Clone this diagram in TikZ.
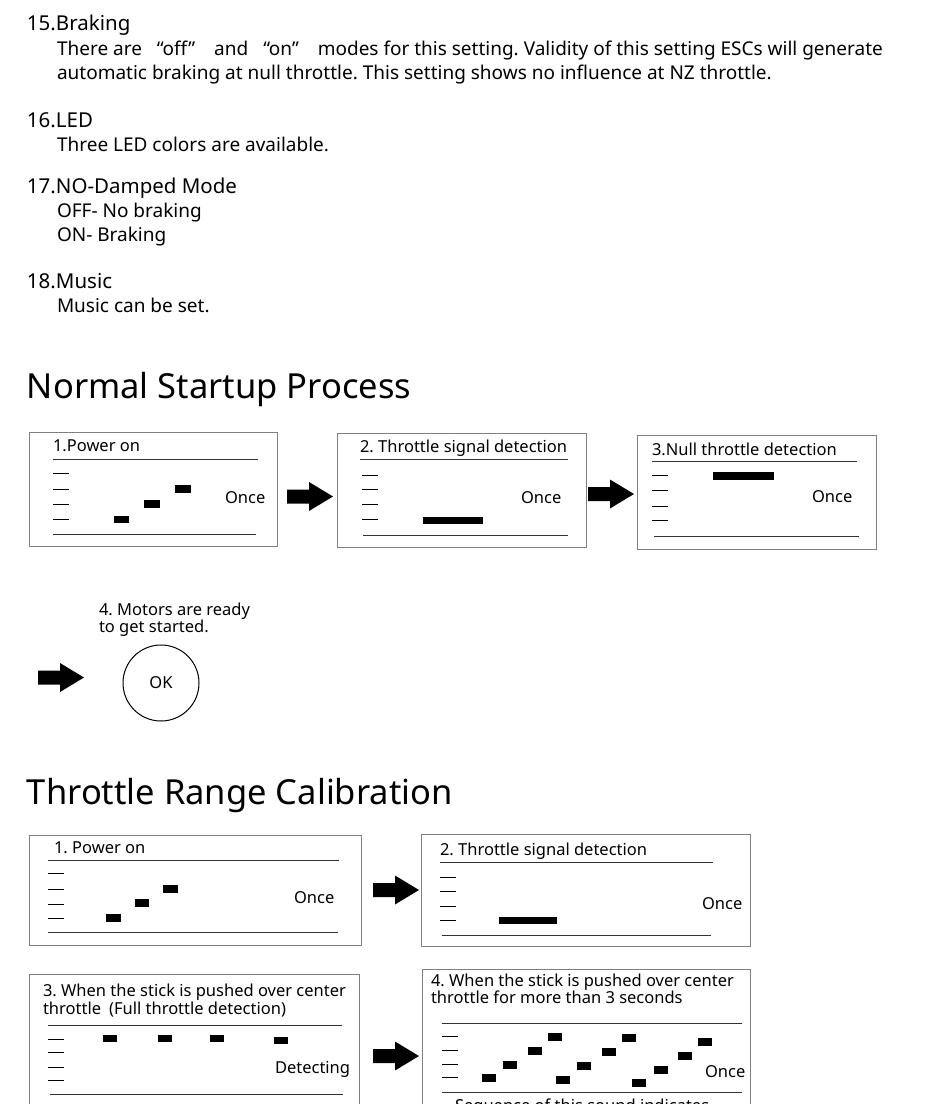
\documentclass[tikz,border=0pt]{standalone}
\usepackage{fontspec}
\setmainfont{Noto Sans}
\usetikzlibrary{positioning}
\newcommand\fsz[1]{\fontsize{#1}{#1}\selectfont}
\tikzset{
  panel/.style={draw=black!50, line width=0.8pt},
  inrule/.style={draw=black!80, line width=0.8pt},
  tick/.style={draw=black, line width=0.8pt},
  bar/.style={fill=black},
  txt/.style={anchor=base west, inner sep=0pt, outer sep=0pt},
  body/.style={txt, font=\fsz{19}},
  head/.style={txt, font=\fsz{20.5}},
  sect/.style={txt, font=\fsz{34.5}},
  small/.style={txt, font=\fsz{16.5}},
  blockarrow/.pic={\fill[black] (0,-7) -- (22,-7) -- (22,-14.5) -- (46,0) -- (22,14.5) -- (22,7) -- (0,7) -- cycle;},
}
\newcommand\tickrow[5]{%
  \foreach \ty in {#2,#3,#4,#5} \draw[tick] (#1,\ty) -- ++(16,0);}
\frenchspacing
\begin{document}
\begin{tikzpicture}[x=1pt,y=-1pt]
\useasboundingbox (0,0) rectangle (940,1104);
\clip (0,0) rectangle (940,1104);
\fill[white] (0,0) rectangle (940,1104);

% ---------- text block ----------
\node[head] (h15) at (27,30) {15.Braking};
\node[body] (t15a) at (57,55) {There are\hspace{15pt}“off”\hspace{19pt}and\hspace{15pt}“on”\hspace{19pt}modes for this setting. Validity of this setting ESCs will generate};
\node[body] (t15b) at (57,79) {automatic braking at null throttle. This setting shows no influence at NZ throttle.};
\node[head] (h16) at (27,127) {16.LED};
\node[body] (t16) at (57,151) {Three LED colors are available.};
\node[head] (h17) at (27,193) {17.NO-Damped Mode};
\node[body] (t17a) at (57,217) {OFF- No braking};
\node[body] (t17b) at (57,241) {ON- Braking};
\node[head] (h18) at (27,288) {18.Music};
\node[body] (t18) at (57,312) {Music can be set.};

% ---------- Normal Startup Process ----------
\node[sect] (s1) at (27,398) {Normal Startup Process};

% box A
\draw[panel] (29,432) rectangle (277,546);
\node[small] (a1) at (53,451) {1.Power on};
\draw[inrule] (53,459) -- (258,459);
\tickrow{53}{473}{489}{504}{519}
\draw[inrule] (53,534) -- (256,534);
\fill[bar] (114,516) rectangle (129,523);
\fill[bar] (144,500) rectangle (160,508);
\fill[bar] (175,485) rectangle (191,493);
\node[small] (a2) at (225,503) {Once};
\pic at (287,496.5) {blockarrow};

% box B
\draw[panel] (337,433) rectangle (586,547);
\node[small] (b1) at (360,452) {2. Throttle signal detection};
\draw[inrule] (360,459) -- (568,459);
\tickrow{362}{475}{489}{504}{519}
\draw[inrule] (363,535) -- (568,535);
\fill[bar] (423,517) rectangle (483,524);
\node[small] (b2) at (521,503) {Once};
\pic at (588,494) {blockarrow};

% box C
\draw[panel] (637,435) rectangle (876,549);
\node[small] (c1) at (652,455) {3.Null throttle detection};
\draw[inrule] (652,461) -- (857,461);
\tickrow{652}{475}{490}{506}{520}
\draw[inrule] (654,536) -- (859,536);
\fill[bar] (713,472) rectangle (774,480);
\node[small] (c2) at (812,502) {Once};

% OK
\node[small] (m1) at (99,615) {4. Motors are ready};
\node[small] (m2) at (99,632) {to get started.};
\pic at (38,677.5) {blockarrow};
\node[circle, draw=black, line width=1pt, minimum size=76pt, inner sep=0pt, font=\fsz{16.5}] (ok) at (161,683) {OK};

% ---------- Throttle Range Calibration ----------
\node[sect] (s2) at (27,804) {Throttle Range Calibration};

% box D
\draw[panel] (29,835) rectangle (361,945);
\node[small] (d1) at (54,853) {1. Power on};
\draw[inrule] (48,860) -- (339,860);
\tickrow{48}{873}{889}{904}{918}
\draw[inrule] (48,932) -- (338,932);
\fill[bar] (106,914) rectangle (121,922);
\fill[bar] (135,899) rectangle (149,907);
\fill[bar] (163,885) rectangle (178,893);
\node[small] (d2) at (294,903) {Once};
\pic at (373,890) {blockarrow};

% box E
\draw[panel] (421,834) rectangle (750,946);
\node[small] (e1) at (440,855) {2. Throttle signal detection};
\draw[inrule] (440,862) -- (713,862);
\tickrow{440}{877}{891}{906}{920}
\draw[inrule] (442,935) -- (711,935);
\fill[bar] (499,917) rectangle (557,924);
\node[small] (e2) at (702,909) {Once};

% box F
\draw[panel] (29,974) rectangle (359,1130);
\node[small] (f1) at (43,996) {3. When the stick is pushed over center};
\node[small] (f2) at (43,1014) {throttle\hspace{8pt}(Full throttle detection)};
\draw[inrule] (48,1025) -- (342,1025);
\tickrow{48}{1039}{1052}{1067}{1080}
\fill[bar] (103,1035) rectangle (117,1042);
\fill[bar] (158,1035) rectangle (172,1042);
\fill[bar] (210,1035) rectangle (224,1042);
\fill[bar] (274,1037) rectangle (288,1044);
\node[small] (f3) at (275,1073) {Detecting};
\draw[inrule] (50,1094) -- (343,1094);
\pic at (373,1056) {blockarrow};

% box G
\draw[panel] (422,969) rectangle (750,1130);
\node[small] (g1) at (431,986) {4. When the stick is pushed over center};
\node[small] (g2) at (431,1003) {throttle for more than 3 seconds};
\draw[inrule] (442,1023) -- (742,1023);
\tickrow{442}{1036}{1050}{1064}{1077}
\foreach \bx/\by in {482/1074, 503/1061, 528/1047, 548/1033,
                     556/1076, 577/1062, 602/1048, 622/1034,
                     632/1079, 654/1066, 678/1052, 698/1038}
  \fill[bar] (\bx,\by) rectangle ++(14,7.5);
\node[small] (g3) at (705,1077) {Once};
\draw[inrule] (442,1092) -- (742,1092);
\node[small] (g4) at (455,1111) {Sequence of this sound indicates};
\end{tikzpicture}
\end{document}
